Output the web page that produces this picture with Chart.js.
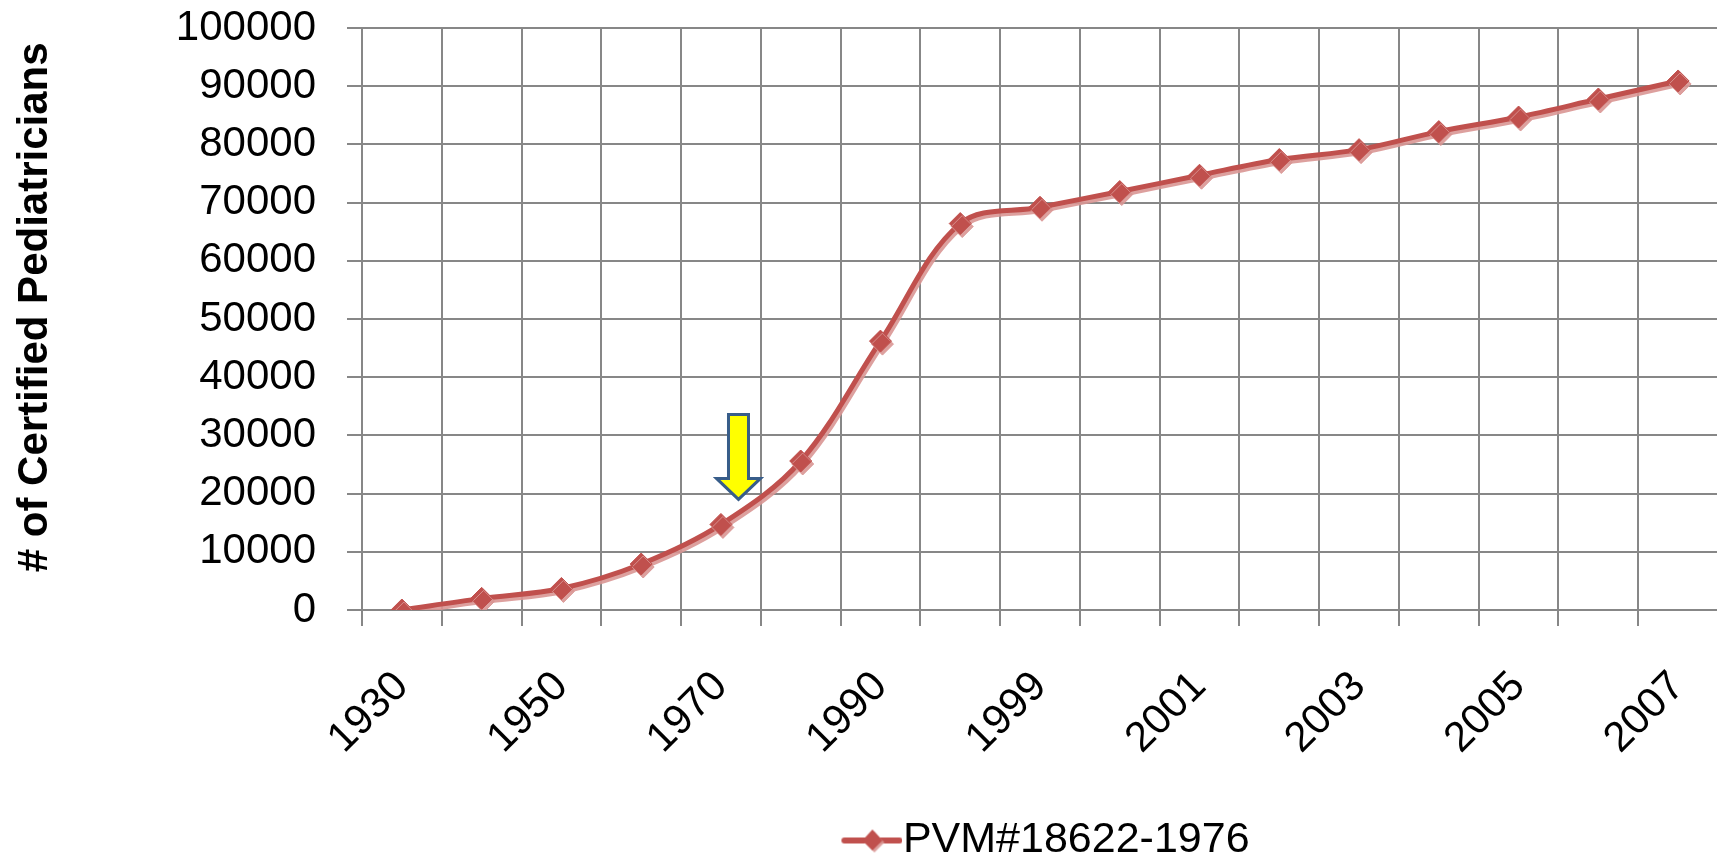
<!DOCTYPE html>
<html>
<head>
<meta charset="utf-8">
<script src="https://cdn.jsdelivr.net/npm/chart.js@4.4.1/dist/chart.umd.min.js"></script>
<style>
  html, body { margin: 0; padding: 0; background: #fff; }
  #wrap { width: 1717px; height: 861px; }
</style>
</head>
<body>
<div id="wrap"><canvas id="grafico"></canvas></div>
<script>
// categorias e valores
const anos = ['1930', '1940', '1950', '1960', '1970', '1980', '1990', '1995', '1999',
              '2000', '2001', '2002', '2003', '2004', '2005', '2006', '2007'];
const pediatras = [0, 2000, 3700, 7900, 14700, 25600, 46200, 66400, 69200,
                   71900, 74700, 77400, 79100, 82200, 84700, 87800, 90900];
const rotulosVisiveis = ['1930', '1950', '1970', '1990', '1999', '2001', '2003', '2005', '2007'];
const nomeSerie = 'PVM#18622-1976';

// seta amarela: posição em unidades de categoria / valor
const seta = { indice: 4.22, topo: 33600, ponta: 19000 };

const vermelho = '#C0504D';
const sombra = 'rgba(217, 150, 148, 0.9)';
const cinza = '#878787';
const fonte = 'Liberation Sans';

// amostra da legenda: linha com losango
function iconeLegenda() {
    const c = document.createElement('canvas');
    c.width = 82; c.height = 26;
    const g = c.getContext('2d');
    g.strokeStyle = vermelho;
    g.lineWidth = 6;
    g.lineCap = 'round';
    g.beginPath(); g.moveTo(24, 13); g.lineTo(79, 13); g.stroke();
    g.fillStyle = sombra;
    g.beginPath(); g.moveTo(54, 4); g.lineTo(64, 15); g.lineTo(54, 25); g.lineTo(44, 15); g.closePath(); g.fill();
    g.fillStyle = vermelho;
    g.beginPath(); g.moveTo(52, 2); g.lineTo(62, 13); g.lineTo(52, 23); g.lineTo(42, 13); g.closePath(); g.fill();
    return c;
}

const pluginSombra = {
    id: 'sombra',
    beforeDatasetDraw(chart) {
        const ctx = chart.ctx;
        ctx.save();
        ctx.shadowColor = sombra;
        ctx.shadowOffsetX = 2;
        ctx.shadowOffsetY = 3;
        ctx.shadowBlur = 0;
    },
    afterDatasetDraw(chart) {
        chart.ctx.restore();
    }
};

const pluginSeta = {
    id: 'seta',
    afterDatasetsDraw(chart) {
        const ctx = chart.ctx;
        const xs = chart.scales.x, ys = chart.scales.y;
        const x = xs.getPixelForValue(seta.indice);
        const yTopo = ys.getPixelForValue(seta.topo);
        const yPonta = ys.getPixelForValue(seta.ponta);
        const yCabeca = yPonta - 21;
        ctx.save();
        ctx.beginPath();
        ctx.moveTo(x - 10, yTopo);
        ctx.lineTo(x + 10, yTopo);
        ctx.lineTo(x + 10, yCabeca);
        ctx.lineTo(x + 22, yCabeca);
        ctx.lineTo(x, yPonta);
        ctx.lineTo(x - 22, yCabeca);
        ctx.lineTo(x - 10, yCabeca);
        ctx.closePath();
        ctx.fillStyle = '#FFFF00';
        ctx.fill();
        ctx.lineWidth = 3;
        ctx.strokeStyle = '#385D8A';
        ctx.stroke();
        ctx.restore();
    }
};

// legenda um pouco mais abaixo; área do gráfico vai até passar a borda direita (como no original)
const pluginLayout = {
    id: 'ajusteLayout',
    afterLayout(chart) {
        chart.legend.top += 11;
        chart.legend.bottom += 11;
        chart.legend.left += 12;
        chart.legend.right += 12;
        const x = chart.scales.x;
        chart.chartArea.right += 13;
        chart.chartArea.width += 13;
        x.right = chart.chartArea.right;
        x.width = x.right - x.left;
        x.configure();
    }
};

const config = {
    type: 'line',
    data: {
        labels: anos,
        datasets: [{
            label: nomeSerie,
            data: pediatras,
            borderColor: vermelho,
            backgroundColor: vermelho,
            borderWidth: 5,
            tension: 0.35,
            pointStyle: 'rectRot',
            pointRadius: 11,
            pointBorderWidth: 1,
            pointBackgroundColor: vermelho,
            pointBorderColor: vermelho
        }]
    },
    options: {
        responsive: true,
        maintainAspectRatio: false,
        animation: false,
        layout: { padding: { top: 28, right: 0, bottom: 0, left: 0 } },
        plugins: {
            tooltip: { enabled: false },
            legend: {
                position: 'bottom',
                fullSize: false,
                labels: {
                    usePointStyle: true,
                    pointStyleWidth: 40,
                    padding: 10,
                    color: '#000',
                    font: { family: fonte, size: 43 },
                    generateLabels: () => [{
                        text: nomeSerie,
                        pointStyle: iconeLegenda(),
                        fillStyle: vermelho,
                        strokeStyle: vermelho,
                        lineWidth: 0,
                        datasetIndex: 0
                    }]
                }
            }
        },
        scales: {
            x: {
                offset: true,
                grid: { offset: true, color: cinza, lineWidth: 2, tickLength: 16 },
                border: { color: cinza, width: 2 },
                ticks: {
                    autoSkip: false,
                    maxRotation: 45,
                    minRotation: 45,
                    padding: 36,
                    color: '#000',
                    font: { family: fonte, size: 42 },
                    callback: (v, i) => rotulosVisiveis.includes(anos[i]) ? anos[i] : ''
                },
                afterFit: (s) => {
                    s.height = 188;
                    s.paddingLeft = 0;
                    s.paddingRight = 0;
                }
            },
            y: {
                min: 0,
                max: 100000,
                grid: { color: cinza, lineWidth: 2, tickLength: 15 },
                border: { color: cinza, width: 2 },
                ticks: {
                    stepSize: 10000,
                    padding: 31,
                    color: '#000',
                    font: { family: fonte, size: 42 },
                    callback: (v) => String(v)
                },
                title: {
                    display: true,
                    text: '  # of Certified Pediatricians',
                    color: '#000',
                    font: { family: fonte, size: 42, weight: 'bold' },
                    padding: { top: 10, bottom: 0 }
                },
                afterFit: (s) => {
                    s.width = 362;
                    s.paddingTop = 0;
                    s.paddingBottom = 0;
                }
            }
        }
    },
    plugins: [pluginSombra, pluginSeta, pluginLayout]
};

window.onload = function() {
    new Chart(document.getElementById('grafico'), config);
};
</script>
</body>
</html>
